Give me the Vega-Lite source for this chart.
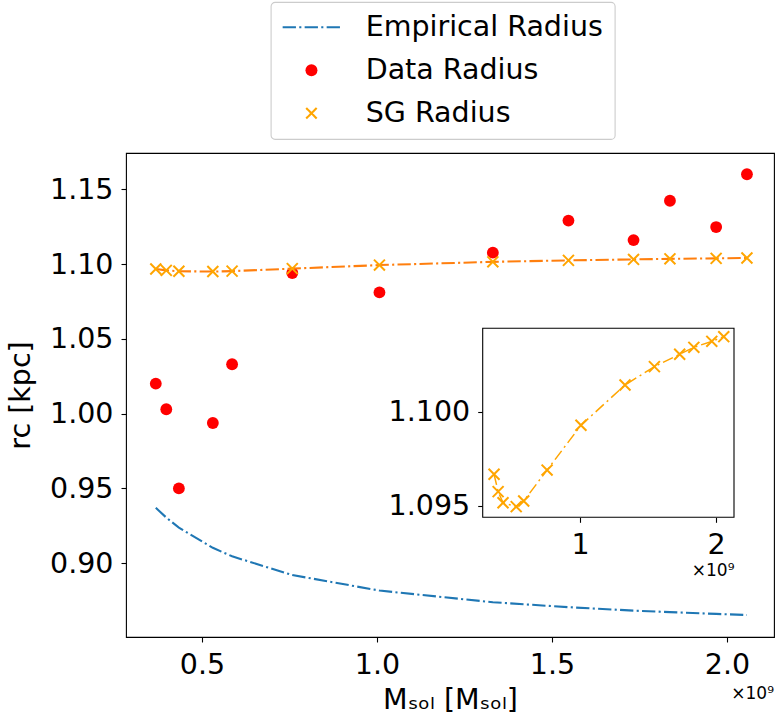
{
  "$schema": "https://vega.github.io/schema/vega-lite/v6.json",
  "autosize": {"type": "none"},
  "padding": {"left": 126, "top": 153, "right": 2, "bottom": 81},
  "width": 648,
  "height": 484,
  "background": "white",
  "config": {
    "font": "DejaVu Sans",
    "view": {"stroke": "black", "strokeWidth": 1.1},
    "axis": {
      "labelFont": "DejaVu Sans", "labelFontSize": 28.5, "labelColor": "black",
      "tickColor": "black", "tickSize": 5, "tickWidth": 1.1, "grid": false,
      "titleFont": "DejaVu Sans", "titleFontSize": 28.5, "titleFontWeight": "normal", "titleColor": "black",
      "labelPadding": 8, "domain": false
    }
  },
  "title": {"text": "×10⁹", "orient": "bottom", "anchor": "end", "frame": "group", "offset": -28.5, "fontSize": 17, "fontWeight": "normal", "color": "black", "font": "DejaVu Sans"},
  "data": {"values": [
    {"M": 368000000, "r_data": 1.020, "r_sg": 1.09668, "r_emp": 0.9370},
    {"M": 398000000, "r_data": 1.0029, "r_sg": 1.09575, "r_emp": 0.9305},
    {"M": 434000000, "r_data": 0.950, "r_sg": 1.09516, "r_emp": 0.9238},
    {"M": 531000000, "r_data": 0.9937, "r_sg": 1.09495, "r_emp": 0.9103},
    {"M": 586000000, "r_data": 1.033, "r_sg": 1.09525, "r_emp": 0.9046},
    {"M": 758000000, "r_data": 1.094, "r_sg": 1.09690, "r_emp": 0.8921},
    {"M": 1007000000, "r_data": 1.081, "r_sg": 1.09929, "r_emp": 0.8817},
    {"M": 1331000000, "r_data": 1.1076, "r_sg": 1.10144, "r_emp": 0.8739},
    {"M": 1547000000, "r_data": 1.129, "r_sg": 1.10242, "r_emp": 0.8706},
    {"M": 1733000000, "r_data": 1.116, "r_sg": 1.10308, "r_emp": 0.8683},
    {"M": 1837000000, "r_data": 1.1423, "r_sg": 1.10345, "r_emp": 0.8673},
    {"M": 1969000000, "r_data": 1.1247, "r_sg": 1.10377, "r_emp": 0.8661},
    {"M": 2057000000, "r_data": 1.160, "r_sg": 1.10402, "r_emp": 0.8654}
  ]},
  "layer": [
    {
      "layer": [
        {
          "mark": {"type": "line", "strokeWidth": 2.1, "strokeDash": [13.3, 3.3, 2.1, 3.3]},
          "encoding": {
            "x": {"field": "M", "type": "quantitative",
              "scale": {"domain": [282900000, 2134300000], "nice": false, "zero": false},
              "axis": {"values": [500000000, 1000000000, 1500000000, 2000000000], "labelExpr": "format(datum.value/1e9, '.1f')", "title": "Mₛₒₗ [Mₛₒₗ]", "titlePadding": 7}},
            "y": {"field": "r_emp", "type": "quantitative",
              "scale": {"domain": [0.85067, 1.1742], "nice": false, "zero": false},
              "axis": {"values": [0.9, 0.95, 1.0, 1.05, 1.1, 1.15], "format": ".2f", "title": "rc [kpc]", "titlePadding": 14}},
            "color": {"datum": "Empirical Radius",
              "scale": {"domain": ["Empirical Radius", "Data Radius", "SG Radius"], "range": ["#1f77b4", "red", "orange"]},
              "legend": {
                "title": null, "orient": "none", "legendX": 144.7, "legendY": -151, "direction": "vertical",
                "padding": 11, "strokeColor": "#cccccc", "fillColor": "white", "cornerRadius": 4,
                "labelFontSize": 28.5, "labelFont": "DejaVu Sans", "labelColor": "black", "labelLimit": 400,
                "labelOffset": 40, "symbolOffset": 15.5, "symbolSize": 144, "symbolStrokeWidth": 1.5, "rowPadding": 14,
                "encode": {
                  "legend": {"update": {"strokeWidth": {"value": 1.1}}},
                  "symbols": {"update": {
                  "shape": {"signal": "datum.value === 'Empirical Radius' ? 'M-4.8,0H4.8' : datum.value === 'Data Radius' ? 'circle' : 'M-1,-1L1,1M-1,1L1,-1'"},
                  "fill": {"signal": "datum.value === 'Data Radius' ? 'red' : 'transparent'"},
                  "stroke": {"signal": "datum.value === 'Empirical Radius' ? '#1f77b4' : datum.value === 'SG Radius' ? 'orange' : 'transparent'"},
                  "strokeWidth": {"signal": "datum.value === 'Data Radius' ? 0 : 2.1"},
                  "strokeDash": {"signal": "datum.value === 'Empirical Radius' ? [13.3, 3.3, 2.1, 3.3] : [1, 0]"},
                  "size": {"signal": "datum.value === 'SG Radius' ? 110 : 144"},
                  "opacity": {"value": 1}
                }}}
              }}
          }
        },
        {
          "mark": {"type": "point", "filled": true, "opacity": 1, "size": 140, "shape": "circle"},
          "encoding": {
            "x": {"field": "M", "type": "quantitative"},
            "y": {"field": "r_data", "type": "quantitative"},
            "color": {"datum": "Data Radius"}
          }
        },
        {
          "mark": {"type": "line", "color": "#ff7f0e", "strokeWidth": 2.1, "strokeDash": [13.3, 3.3, 2.1, 3.3]},
          "encoding": {
            "x": {"field": "M", "type": "quantitative"},
            "y": {"field": "r_sg", "type": "quantitative"}
          }
        },
        {
          "mark": {"type": "point", "shape": "M-1,-1L1,1M-1,1L1,-1", "filled": false, "strokeWidth": 2, "size": 120, "opacity": 1},
          "encoding": {
            "x": {"field": "M", "type": "quantitative"},
            "y": {"field": "r_sg", "type": "quantitative"},
            "color": {"datum": "SG Radius"}
          }
        }
      ]
    },
    {
      "layer": [
        {
          "data": {"values": [{}]},
          "mark": {"type": "rect", "fill": "white", "stroke": "black", "strokeWidth": 1.1},
          "encoding": {
            "x": {"datum": 284560000, "type": "quantitative",
              "scale": {"domain": [284560000, 2132350000], "range": [356.7, 608], "nice": false, "zero": false},
              "axis": {"orient": "bottom", "offset": -119.7, "values": [1000000000, 2000000000], "labelExpr": "format(datum.value/1e9, 'd')", "title": "×10⁹", "titleFontSize": 17, "titleAnchor": "end", "titlePadding": 4}},
            "x2": {"datum": 2132350000},
            "y": {"datum": 1.094381, "type": "quantitative",
              "scale": {"domain": [1.094381, 1.104466], "range": [364.3, 175.3], "nice": false, "zero": false},
              "axis": {"orient": "left", "offset": -356.7, "values": [1.095, 1.1], "format": ".3f", "title": null}},
            "y2": {"datum": 1.104466}
          }
        },
        {
          "mark": {"type": "line", "color": "orange", "strokeWidth": 1.5, "strokeDash": [11, 4, 2, 4]},
          "encoding": {
            "x": {"field": "M", "type": "quantitative"},
            "y": {"field": "r_sg", "type": "quantitative"}
          }
        },
        {
          "mark": {"type": "point", "shape": "M-1,-1L1,1M-1,1L1,-1", "filled": false, "strokeWidth": 2, "size": 120, "opacity": 1, "color": "orange"},
          "encoding": {
            "x": {"field": "M", "type": "quantitative"},
            "y": {"field": "r_sg", "type": "quantitative"}
          }
        }
      ]
    }
  ],
  "resolve": {"scale": {"x": "independent", "y": "independent"}}
}
